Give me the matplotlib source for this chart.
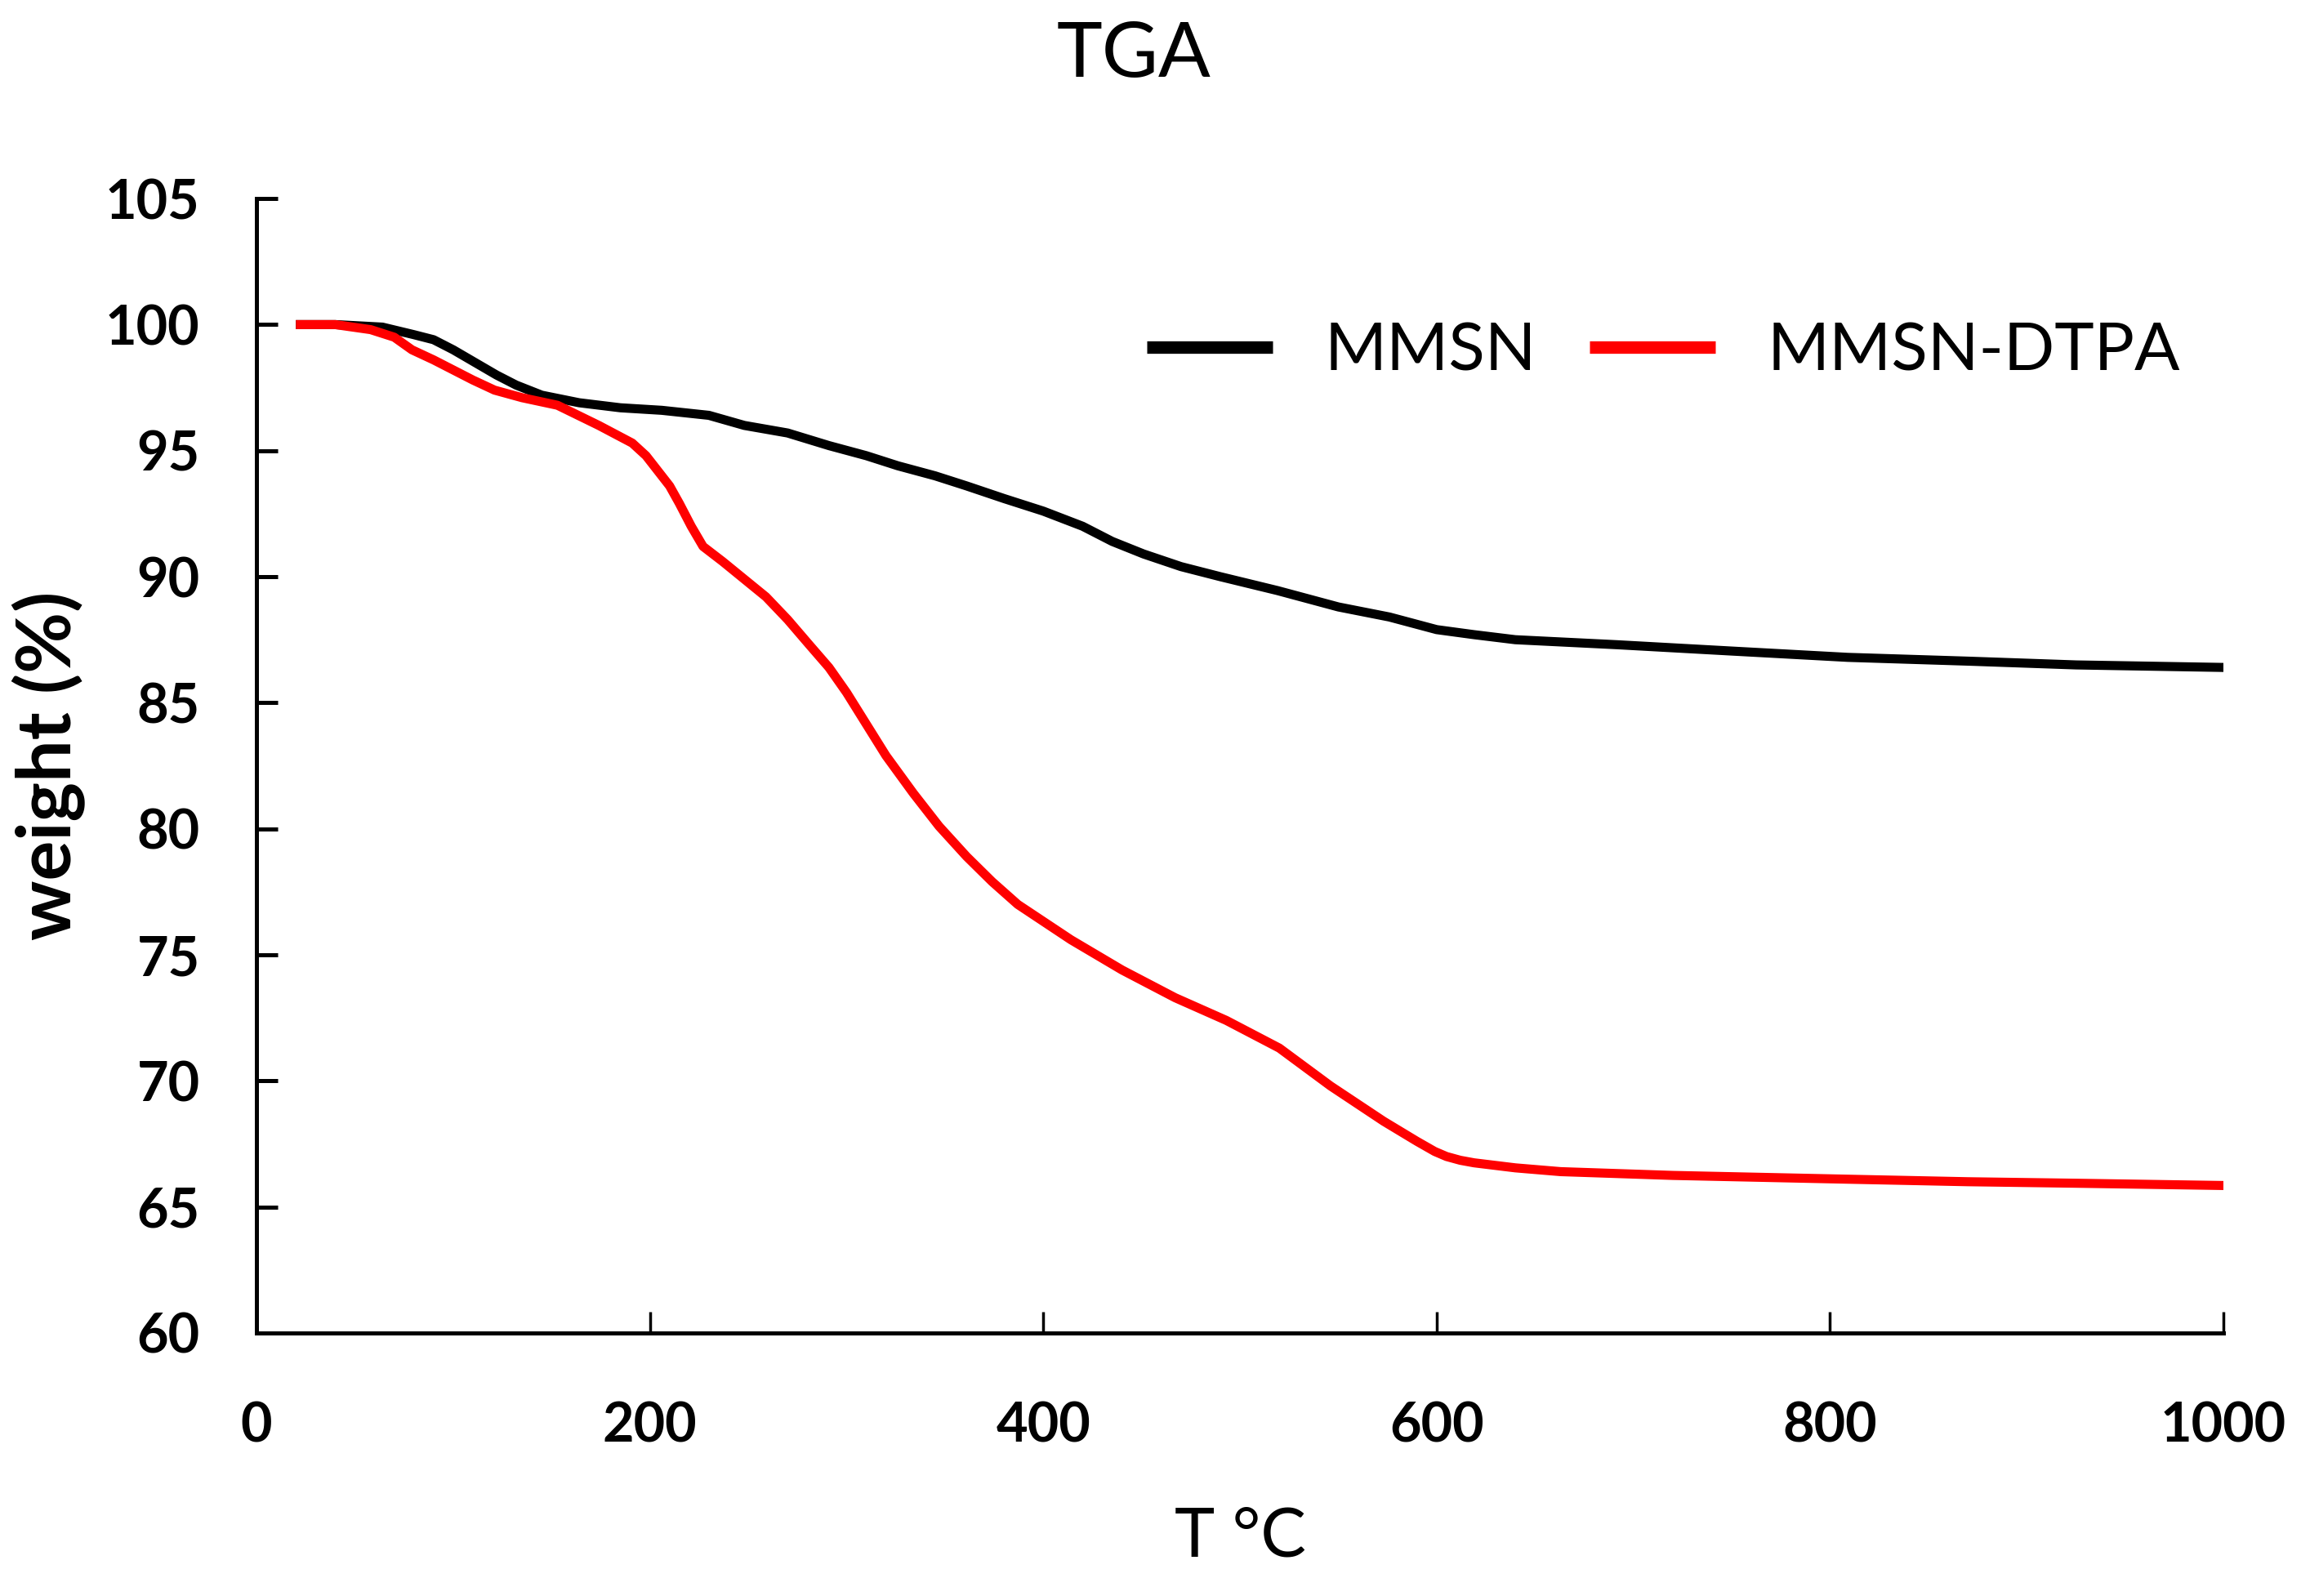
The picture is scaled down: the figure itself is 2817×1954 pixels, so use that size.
import matplotlib
matplotlib.use("Agg")
import matplotlib.pyplot as plt

# TGA curves (temperature in deg C, weight in %)
t_mmsn = [20, 40, 64, 80, 90, 100, 111, 122, 132, 145, 164, 185, 206, 230, 248,
          270, 291, 310, 326, 345, 361, 380, 400, 420, 435, 451, 470, 490, 519,
          550, 576, 600, 619, 640, 692, 750, 809, 870, 925, 1000]
w_mmsn = [100, 100, 99.9, 99.6, 99.4, 99.0, 98.5, 98.0, 97.6, 97.2, 96.9, 96.7,
          96.6, 96.4, 96.0, 95.7, 95.2, 94.8, 94.4, 94.0, 93.6, 93.1, 92.6, 92.0,
          91.4, 90.9, 90.4, 90.0, 89.45, 88.8, 88.4, 87.9, 87.7, 87.5, 87.3,
          87.05, 86.8, 86.65, 86.5, 86.4]

t_dtpa = [20, 40, 58, 70, 79, 90, 100, 110, 121, 135, 153, 174, 191, 198, 204,
          210, 215, 221, 227, 237, 248, 259, 270, 281, 291, 300, 308, 320, 334,
          347, 361, 374, 387, 414, 440, 467, 493, 520, 546, 573, 590, 599, 605,
          612, 619, 640, 663, 720, 809, 870, 925, 1000]
w_dtpa = [100, 100, 99.8, 99.5, 99.0, 98.6, 98.2, 97.8, 97.4, 97.1, 96.8, 96.0,
          95.3, 94.8, 94.2, 93.6, 92.9, 92.0, 91.2, 90.6, 89.9, 89.2, 88.3, 87.3,
          86.4, 85.4, 84.4, 82.9, 81.4, 80.1, 78.9, 77.9, 77.0, 75.6, 74.4, 73.3,
          72.4, 71.3, 69.8, 68.4, 67.6, 67.2, 67.0, 66.85, 66.75, 66.55, 66.4,
          66.25, 66.1, 66.0, 65.94, 65.85]

x_ticks = [0, 200, 400, 600, 800, 1000]
y_ticks = [60, 65, 70, 75, 80, 85, 90, 95, 100, 105]

plt.rcParams['font.family'] = ['Lato', 'DejaVu Sans']

fig = plt.figure(figsize=(28.17, 19.54), dpi=100)
ax = fig.add_axes([0.1115, 0.1648, 0.8548, 0.7108])

ax.plot(t_mmsn, w_mmsn, color='black', lw=8, label='MMSN',
        solid_capstyle='butt', solid_joinstyle='round')
ax.plot(t_dtpa, w_dtpa, color='#ff0000', lw=8, label='MMSN-DTPA',
        solid_capstyle='butt', solid_joinstyle='round')

ax.set_xlim(0, 1000)
ax.set_ylim(60, 105)
ax.set_xticks(x_ticks)
ax.set_yticks(y_ticks)

for s in ['top', 'right']:
    ax.spines[s].set_visible(False)
for s in ['left', 'bottom']:
    ax.spines[s].set_linewidth(3.6)

ax.tick_params(axis='x', direction='in', length=19, width=2.5, pad=60, labelsize=48)
ax.tick_params(axis='y', direction='in', length=19, width=3.6, pad=50, labelsize=48)
for lab in ax.get_xticklabels() + ax.get_yticklabels():
    lab.set_fontweight('bold')

fig.text(0.4927, 0.965, "TGA", fontsize=68, ha='center', va='center')

ax.set_xlabel("T °C", fontsize=60)
ax.xaxis.set_label_coords(0.5, -0.1807)
ax.xaxis.label.set_va('center')

ax.set_ylabel("weight (%)", fontsize=66, fontweight='bold')
ax.yaxis.set_label_coords(-0.1055, 0.5)
ax.yaxis.label.set_va('center')

leg = ax.legend(loc='center left', bbox_to_anchor=(0.4527, 0.865), ncol=2,
                frameon=False, fontsize=59, handlelength=1.88,
                handletextpad=0.77, columnspacing=0.8,
                borderpad=0, borderaxespad=0)
for h in leg.get_lines():
    h.set_linewidth(11)

plt.savefig("out.png", dpi=100)
